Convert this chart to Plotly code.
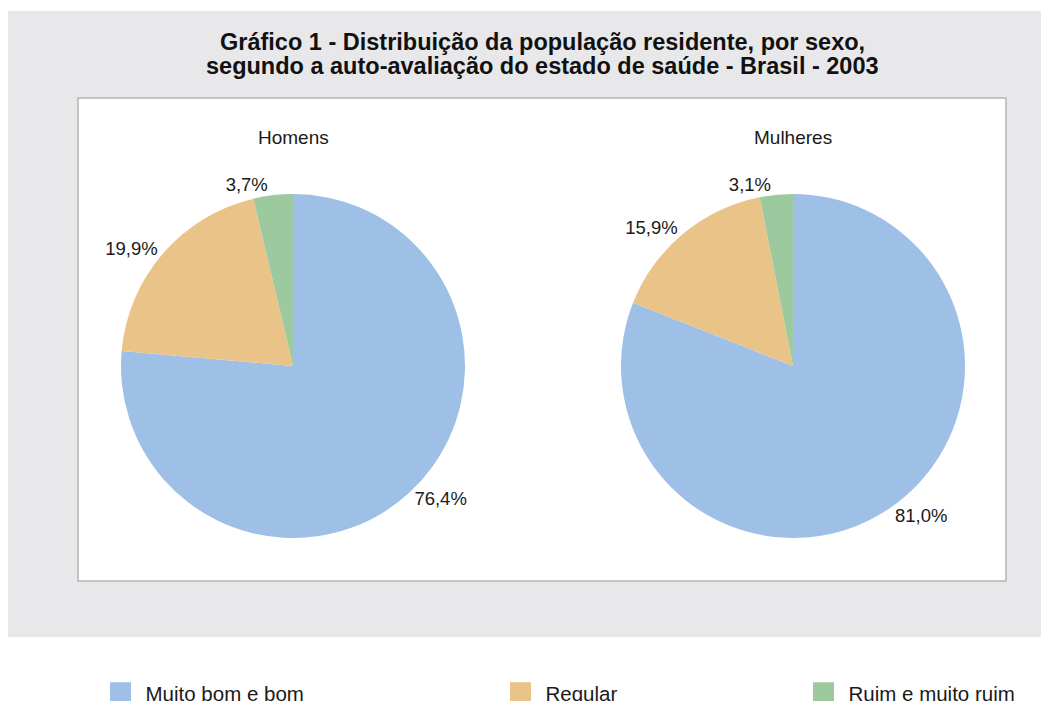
import plotly.graph_objects as go

categories = ["Muito bom e bom", "Regular", "Ruim e muito ruim"]
homens = [76.4, 19.9, 3.7]
mulheres = [81.0, 15.9, 3.1]
group_titles = ["Homens", "Mulheres"]
colors = ["#9fc0e6", "#eac389", "#9dc99e"]
title_lines = ["Gráfico 1 - Distribuição da população residente, por sexo,",
               "segundo a auto-avaliação do estado de saúde - Brasil - 2003"]

# page body has an 8px margin: figure size chosen so the page fills the window
OFF = 8
W, H = 1041, 693
FONT = "Liberation Sans, Arial, Helvetica, sans-serif"

def X(x):
    return (x - OFF) / W

def Y(y):
    return 1 - (y - OFF) / H

fig = go.Figure()

centers = [(293, 366), (793, 366)]
R = 172
for vals, (cx, cy) in zip([homens, mulheres], centers):
    fig.add_trace(go.Pie(
        labels=categories, values=vals, sort=False, direction="clockwise", rotation=0,
        marker=dict(colors=colors, line=dict(width=0)),
        textposition="outside", texttemplate="%{value:.1f}%",
        textfont=dict(family=FONT, size=18.5, color="#1a1a1a"),
        domain=dict(x=[X(cx - R), X(cx + R)], y=[Y(cy + R), Y(cy - R)]),
        showlegend=False, hoverinfo="label+value",
    ))

# legend entries (one legend per category to reproduce the uneven spacing)
legend_x = [95.5, 495.5, 798.5]
for i, (cat, col) in enumerate(zip(categories, colors)):
    lname = "legend" if i == 0 else f"legend{i+1}"
    fig.add_trace(go.Scatter(
        x=[None], y=[None], mode="markers", name=cat,
        marker=dict(symbol="square", size=16, color=col, line=dict(color=col, width=5)),
        legend=lname, showlegend=True, hoverinfo="skip",
    ))

legend_common = dict(xref="paper", yref="paper", yanchor="top", xanchor="left",
                     bgcolor="rgba(0,0,0,0)", font=dict(family=FONT, size=20.5, color="#1a1a1a"),
                     itemwidth=40, orientation="h")
layout_legends = {}
for i, lx in enumerate(legend_x):
    lname = "legend" if i == 0 else f"legend{i+1}"
    layout_legends[lname] = dict(x=X(lx), y=Y(673), **legend_common)

shapes = [
    dict(type="rect", xref="paper", yref="paper", x0=X(8), x1=1.0, y0=Y(637), y1=Y(11),
         fillcolor="#e8e8ea", line=dict(width=0), layer="below"),
    dict(type="rect", xref="paper", yref="paper", x0=X(78), x1=X(1006), y0=Y(581), y1=Y(98),
         fillcolor="#ffffff", line=dict(color="#b4b4b4", width=1.5), layer="below"),
]

annotations = []
for line, ly in zip(title_lines, [42, 66]):
    annotations.append(dict(text=line, x=X(542), y=Y(ly), xref="paper", yref="paper",
                            showarrow=False, font=dict(family=FONT, size=23.5, color="#111111", weight="bold"),
                            xanchor="center", yanchor="middle", align="center"))
for t, (cx, cy) in zip(group_titles, centers):
    annotations.append(dict(text=t, x=X(cx), y=Y(137), xref="paper", yref="paper",
                            showarrow=False, font=dict(family=FONT, size=19, color="#1a1a1a"),
                            xanchor="center", yanchor="middle"))

fig.update_layout(
    width=W, height=H, margin=dict(l=0, r=0, t=0, b=0, autoexpand=False),
    paper_bgcolor="#ffffff", plot_bgcolor="#ffffff",
    separators=",.",
    xaxis=dict(visible=False), yaxis=dict(visible=False),
    shapes=shapes, annotations=annotations,
    **layout_legends,
)

fig.write_html("out.html")
